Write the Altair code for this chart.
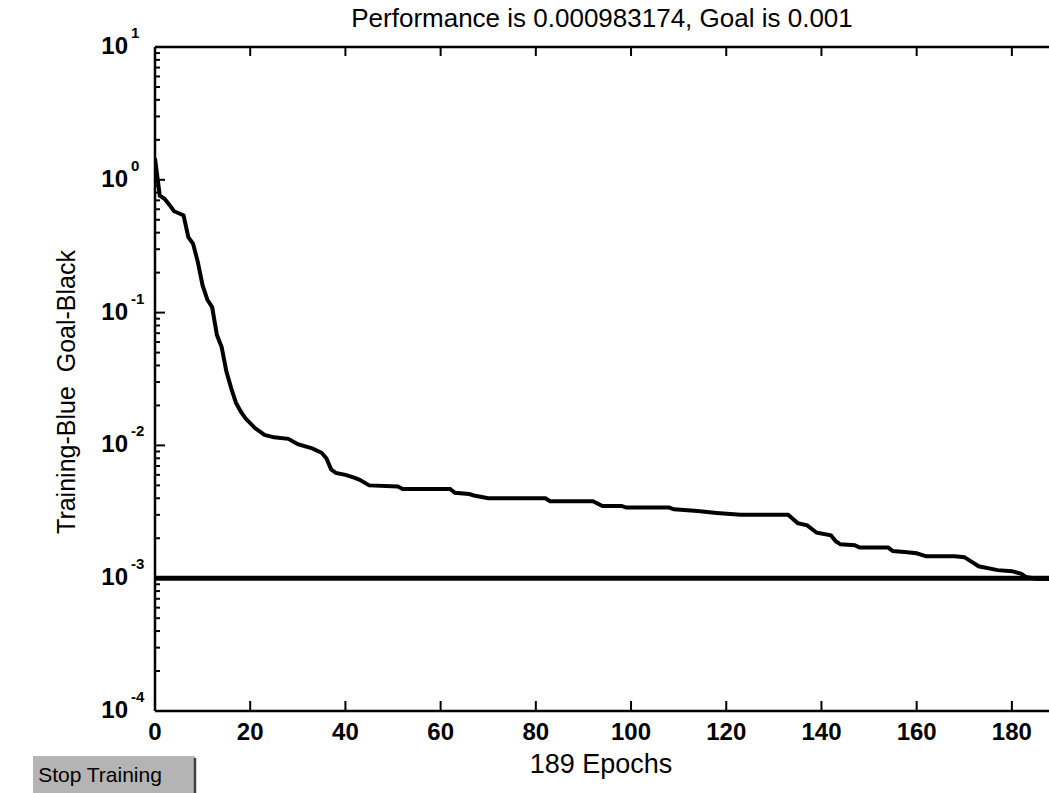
import altair as alt
import pandas as pd

# ---- data ----
epochs = [0, 1, 2, 3, 4, 5, 6, 7, 8, 9, 10, 11, 12, 13, 14, 15, 16, 17, 18, 19,
          21, 23, 25, 28, 30, 33, 35, 36, 37, 38, 40, 42, 43, 45, 51, 52, 62, 63,
          66, 67, 70, 82, 83, 92, 94, 98, 99, 108, 109, 114, 118, 123, 133, 135,
          137, 139, 142, 143, 144, 147, 148, 154, 155, 158, 160, 162, 168, 170,
          172, 173, 177, 180, 182, 183, 185, 189]
perf = [1.45, 0.76, 0.72, 0.65, 0.58, 0.56, 0.54, 0.37, 0.33, 0.24, 0.16, 0.125,
        0.11, 0.068, 0.055, 0.036, 0.027, 0.021, 0.018, 0.016, 0.0135, 0.012,
        0.0115, 0.0112, 0.0102, 0.0095, 0.0088, 0.0080, 0.0066, 0.0062, 0.0060,
        0.0057, 0.0055, 0.0050, 0.0049, 0.0047, 0.0047, 0.0044, 0.0043, 0.0042,
        0.0040, 0.0040, 0.0038, 0.0038, 0.0035, 0.0035, 0.0034, 0.0034, 0.0033,
        0.0032, 0.0031, 0.0030, 0.0030, 0.0026, 0.0025, 0.0022, 0.0021, 0.0019,
        0.0018, 0.00177, 0.0017, 0.0017, 0.0016, 0.00157, 0.00154, 0.00146,
        0.00146, 0.00144, 0.0013, 0.00123, 0.00115, 0.00113, 0.00108, 0.00102,
        0.00099, 0.000983]
goal_epochs = [0, 189]
goal_vals = [0.001, 0.001]

x_ticks = [0, 20, 40, 60, 80, 100, 120, 140, 160, 180]
y_exps = [1, 0, -1, -2, -3, -4]
y_minor_mult = [2, 3, 4, 5, 6, 7, 8, 9]

title_text = "Performance is 0.000983174, Goal is 0.001"
x_title = "189 Epochs"
y_title = "Training-Blue\u00a0 Goal-Black"
button_text = "Stop Training"

# ---- layout ----
W, H = 894, 664
FONT = "Liberation Sans"

xs = alt.Scale(domain=[0, 187.8], nice=False, zero=False)
ys = alt.Scale(type="log", domain=[1e-4, 10], nice=False)

df_curve = pd.DataFrame({"epoch": epochs, "perf": perf})
df_goal = pd.DataFrame({"epoch": goal_epochs, "perf": goal_vals})
df_xt = pd.DataFrame({"t": x_ticks, "label": [str(t) for t in x_ticks]})
df_ym = pd.DataFrame({"v": [10.0 ** e for e in y_exps],
                      "base": ["10"] * len(y_exps),
                      "exp": [str(e) for e in y_exps]})
df_yminor = pd.DataFrame({"v": [m * 10.0 ** e for e in range(-4, 1) for m in y_minor_mult]})
one = pd.DataFrame({"a": [0]})

X = lambda f: alt.X(f, type="quantitative", scale=xs, axis=None)
Y = lambda f: alt.Y(f, type="quantitative", scale=ys, axis=None)

goal = alt.Chart(df_goal).mark_line(color="black", strokeWidth=5, clip=True).encode(
    x=X("epoch"), y=Y("perf"))
curve = alt.Chart(df_curve).mark_line(color="black", strokeWidth=4, clip=True).encode(
    x=X("epoch"), y=Y("perf"))

top_ticks = alt.Chart(df_xt).mark_rule(color="black", strokeWidth=2).encode(
    x=X("t"), y=alt.value(0), y2=alt.value(9))
bot_ticks = alt.Chart(df_xt).mark_rule(color="black", strokeWidth=2).encode(
    x=X("t"), y=alt.value(H), y2=alt.value(H - 10))
x_labels = alt.Chart(df_xt).mark_text(font=FONT, fontSize=24, fontWeight="bold",
                                      align="center", baseline="middle").encode(
    x=X("t"), y=alt.value(H + 22), text="label:N")

y_major = alt.Chart(df_ym).mark_rule(color="black", strokeWidth=2).encode(
    y=Y("v"), x=alt.value(0), x2=alt.value(10))
y_minor = alt.Chart(df_yminor).mark_rule(color="black", strokeWidth=2).encode(
    y=Y("v"), x=alt.value(0), x2=alt.value(5))
y_base = alt.Chart(df_ym).mark_text(font=FONT, fontSize=24, fontWeight="bold",
                                    align="right", baseline="middle").encode(
    y=Y("v"), x=alt.value(-27), text="base:N")
y_exp = alt.Chart(df_ym).mark_text(font=FONT, fontSize=15, fontWeight="bold",
                                   align="left", baseline="middle", dy=-14).encode(
    y=Y("v"), x=alt.value(-24), text="exp:N")

left_line = alt.Chart(one).mark_rule(color="black", strokeWidth=2.5).encode(
    x=alt.value(0), y=alt.value(0), y2=alt.value(H))
top_line = alt.Chart(one).mark_rule(color="black", strokeWidth=2.5).encode(
    y=alt.value(0), x=alt.value(0), x2=alt.value(W))
bot_line = alt.Chart(one).mark_rule(color="black", strokeWidth=2.5).encode(
    y=alt.value(H), x=alt.value(0), x2=alt.value(W))

title = alt.Chart(pd.DataFrame({"s": [title_text]})).mark_text(
    font=FONT, fontSize=26, align="center", baseline="middle").encode(
    x=alt.value(W / 2), y=alt.value(-28), text="s:N")
xt = alt.Chart(pd.DataFrame({"s": [x_title]})).mark_text(
    font=FONT, fontSize=27, align="center", baseline="middle").encode(
    x=alt.value(446), y=alt.value(H + 54), text="s:N")
yt = alt.Chart(pd.DataFrame({"s": [y_title]})).mark_text(
    font=FONT, fontSize=25, align="center", baseline="middle", angle=270).encode(
    x=alt.value(-88), y=alt.value(345), text="s:N")

btn = alt.Chart(one).mark_rect(color="#b4b4b4").encode(
    x=alt.value(-122), x2=alt.value(40), y=alt.value(709), y2=alt.value(746))
btn_edge = alt.Chart(one).mark_rule(color="#404040", strokeWidth=2.5).encode(
    x=alt.value(40), y=alt.value(711), y2=alt.value(746))
btn_txt = alt.Chart(pd.DataFrame({"s": [button_text]})).mark_text(
    font=FONT, fontSize=21, align="center", baseline="middle").encode(
    x=alt.value(-55), y=alt.value(729), text="s:N")

chart = alt.layer(
    btn, btn_edge, btn_txt,
    goal, curve, top_ticks, bot_ticks, y_major, y_minor,
    left_line, top_line, bot_line,
    x_labels, y_base, y_exp, title, xt, yt,
).properties(
    width=W, height=H,
    padding={"left": 155, "top": 47, "right": 0, "bottom": 82},
    autosize=alt.AutoSizeParams(type="none"),
    background="white",
).configure_view(stroke=None)

chart.save("out.html", embed_options={"renderer": "svg", "actions": False})
